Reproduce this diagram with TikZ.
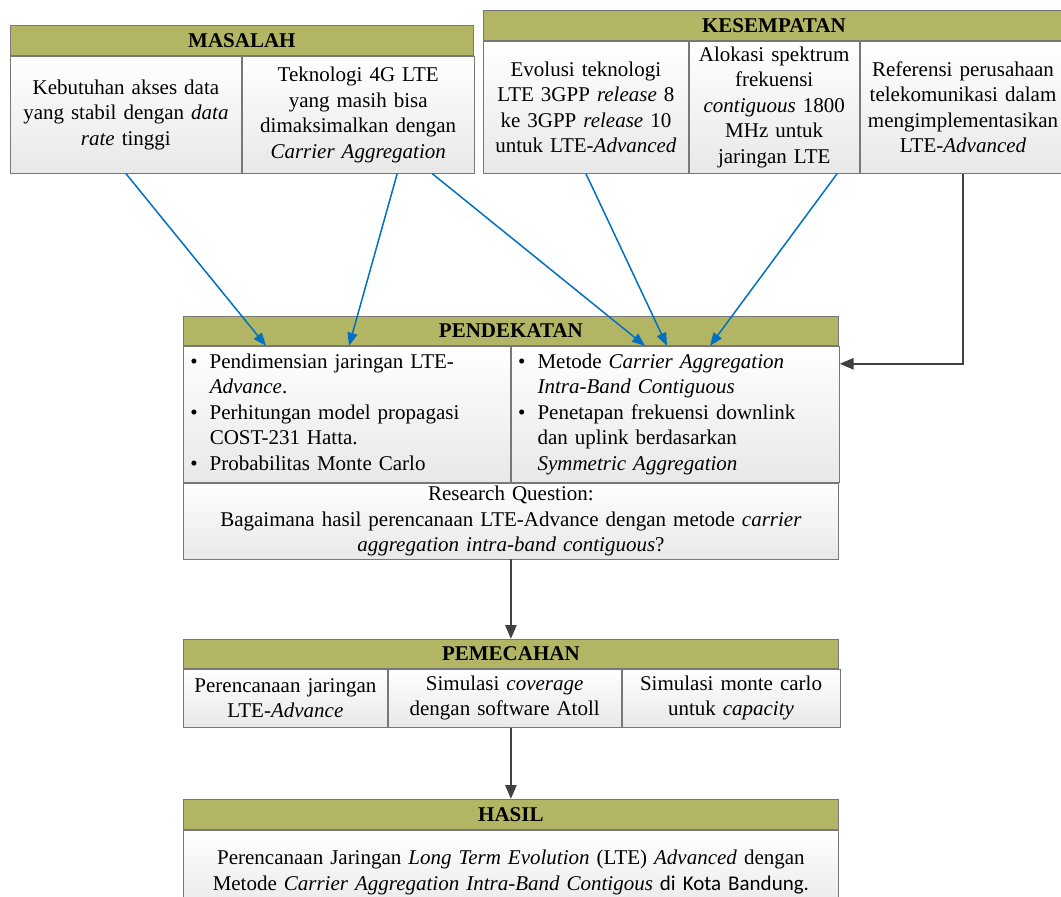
\documentclass[tikz,border=0pt]{standalone}
\usepackage{fontspec}
\setmainfont{LiberationSerif}[Extension=.ttf, UprightFont=*-Regular, ItalicFont=*-Italic, BoldFont=*-Bold, BoldItalicFont=*-BoldItalic]
\newfontfamily\calib{Carlito}
\usetikzlibrary{arrows.meta, positioning}
\definecolor{zaitun}{RGB}{178,181,100}
\definecolor{garis}{RGB}{120,120,120}
\definecolor{biru}{RGB}{0,112,192}
\definecolor{gelap}{RGB}{64,64,64}
\newcommand{\ukuran}{\fontsize{21}{25.5}\selectfont}
\tikzstyle{judul} = [rectangle, anchor=north west, inner sep=0pt, draw=garis, line width=0.8pt, fill=zaitun, font=\ukuran\bfseries, align=center]
\tikzstyle{isi} = [rectangle, anchor=north west, inner sep=0pt, draw=garis, line width=0.8pt, top color=white, bottom color=black!9, font=\ukuran, align=center]
\tikzstyle{panahbiru} = [->, >={Triangle[length=13pt,width=10pt]}, draw=biru, line width=1.5pt]
\tikzstyle{panah} = [->, >={Triangle[length=14pt,width=11pt]}, draw=gelap, line width=2.5pt]

\begin{document}
\begin{tikzpicture}[x=1pt, y=-1pt]
		\useasboundingbox (0,0) rectangle (1061,897);
		\clip (0,0) rectangle (1061,897);
		% masalah
		\node (hdrM) [judul, minimum width=463pt, minimum height=30pt] at (10,25) {MASALAH};
		\node (m1) [isi, minimum width=231pt, text width=225pt, minimum height=117pt] at (hdrM.south west) {
			Kebutuhan akses data\\
			yang stabil dengan \textit{data}\\
			\textit{rate} tinggi
		};
		\node (m2) [isi, minimum width=232pt, text width=226pt, minimum height=117pt] at (m1.north east) {
			Teknologi 4G LTE\\
			yang masih bisa\\
			dimaksimalkan dengan\\
			\textit{Carrier Aggregation}
		};
		% kesempatan
		\node (hdrK) [judul, minimum width=581pt, minimum height=30pt] at (483,10) {KESEMPATAN};
		\node (k1) [isi, minimum width=205pt, text width=201pt, minimum height=132pt] at (hdrK.south west) {
			Evolusi teknologi\\
			LTE 3GPP \textit{release} 8\\
			ke 3GPP \textit{release} 10\\
			untuk LTE-\textit{Advanced}
		};
		\node (k2) [isi, minimum width=170pt, text width=166pt, minimum height=132pt] at (k1.north east) {
			Alokasi spektrum\\
			frekuensi\\
			\textit{contiguous} 1800\\
			MHz untuk\\
			jaringan LTE
		};
		\node (k3) [isi, minimum width=206pt, text width=206pt, minimum height=132pt] at (k2.north east) {
			Referensi perusahaan\\
			telekomunikasi dalam\\
			mengimplementasikan\\
			LTE-\textit{Advanced}
		};
		% pendekatan
		\node (hdrP) [judul, minimum width=655pt, minimum height=29pt] at (183,316) {PENDEKATAN};
		\node (pl) [isi, minimum width=327pt, text width=313pt, minimum height=136pt, align=left] at (hdrP.south west) {
			\begin{tabular}{@{}l@{\hspace{12pt}}l@{}}
			\textbullet & Pendimensian jaringan LTE-\\
			 & \textit{Advance}.\\
			\textbullet & Perhitungan model propagasi\\
			 & COST-231 Hatta.\\
			\textbullet & Probabilitas Monte Carlo
			\end{tabular}
		};
		\node (pr) [isi, minimum width=328pt, text width=314pt, minimum height=136pt, align=left] at (pl.north east) {
			\begin{tabular}{@{}l@{\hspace{12pt}}l@{}}
			\textbullet & Metode \textit{Carrier Aggregation}\\
			 & \textit{Intra-Band Contiguous}\\
			\textbullet & Penetapan frekuensi downlink\\
			 & dan uplink berdasarkan\\
			 & \textit{Symmetric Aggregation}
			\end{tabular}
		};
		\node (rq) [isi, minimum width=655pt, text width=645pt, minimum height=76pt] at (pl.south west) {
			Research Question:\\
			Bagaimana hasil perencanaan LTE-Advance dengan metode \textit{carrier}\\
			\textit{aggregation intra-band contiguous}?
		};
		% pemecahan
		\node (hdrS) [judul, minimum width=655pt, minimum height=29pt] at (183,639) {PEMECAHAN};
		\node (s1) [isi, minimum width=204pt, text width=200pt, minimum height=58pt] at (hdrS.south west) {
			Perencanaan jaringan\\
			LTE-\textit{Advance}
		};
		\node (s2) [isi, minimum width=233pt, text width=229pt, minimum height=58pt] at (s1.north east) {
			Simulasi \textit{coverage}\\
			dengan software Atoll
		};
		\node (s3) [isi, minimum width=218pt, text width=214pt, minimum height=58pt] at (s2.north east) {
			Simulasi monte carlo\\
			untuk \textit{capacity}
		};
		% hasil
		\node (hdrH) [judul, minimum width=655pt, minimum height=30pt] at (183,799) {HASIL};
		\node (h1) [isi, minimum width=655pt, text width=651pt, minimum height=84pt] at (hdrH.south west) {
			Perencanaan Jaringan \textit{Long Term Evolution} (LTE) \textit{Advanced} dengan\\
			Metode \textit{Carrier Aggregation Intra-Band Contigous} {\calib di Kota Bandung.}\\[6pt]
		};
		\coordinate (t1) at ([xshift=83pt]hdrP.south west);
		\coordinate (t2) at ([xshift=166pt]hdrP.south west);
		\coordinate (t3) at ([xshift=462pt]hdrP.south west);
		\coordinate (t4) at ([xshift=484pt]hdrP.south west);
		\coordinate (t5) at ([xshift=527pt]hdrP.south west);
		\draw [panahbiru] (m1.south) -- (t1);
		\draw [panahbiru] ([xshift=39pt]m2.south) -- (t2);
		\draw [panahbiru] ([xshift=74pt]m2.south) -- (t3);
		\draw [panahbiru] (k1.south) -- (t4);
		\draw [panahbiru] ([xshift=63pt]k2.south) -- (t5);
		\draw [panah] (k3.south) |- ([yshift=-18pt]pr.north east);
		\draw [panah] (rq.south) -- (hdrS.north);
		\draw [panah] (s2.south -| hdrH.north) -- (hdrH.north);
	\end{tikzpicture}
\end{document}
